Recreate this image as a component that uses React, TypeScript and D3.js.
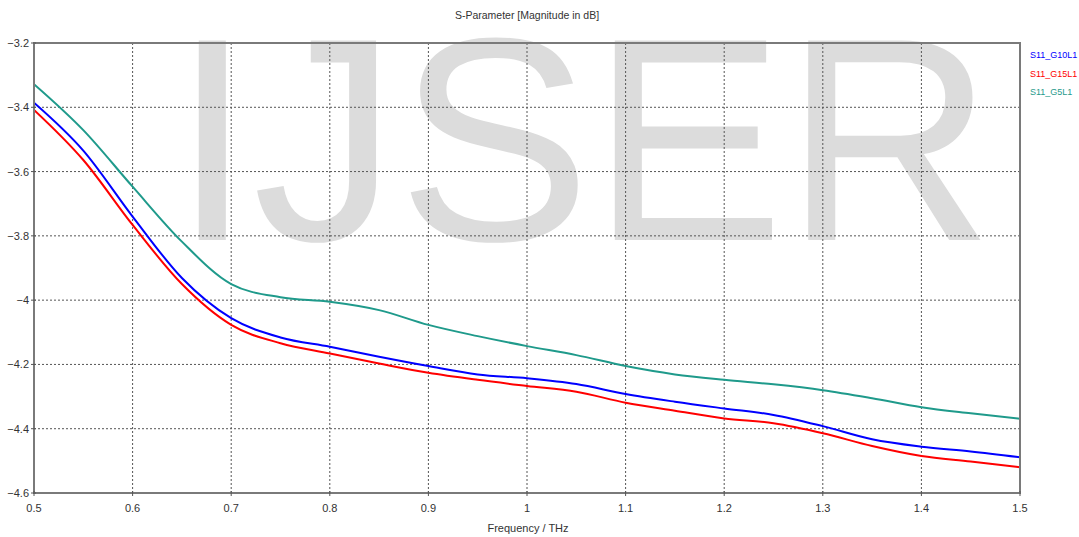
import React from 'react'
import * as d3 from 'd3'

// Frequency (THz) sample points
const freq = [0.5, 0.55, 0.6, 0.65, 0.7, 0.75, 0.8, 0.85, 0.9, 0.95, 1.0, 1.05, 1.1, 1.15, 1.2, 1.25, 1.3, 1.35, 1.4, 1.45, 1.5]

// S11 magnitude in dB
const s11G10L = [-3.386, -3.535, -3.74, -3.931, -4.056, -4.116, -4.145, -4.176, -4.205, -4.231, -4.243, -4.261, -4.292, -4.316, -4.337, -4.357, -4.392, -4.433, -4.456, -4.471, -4.489]
const s11G15L = [-3.408, -3.564, -3.766, -3.95, -4.077, -4.134, -4.166, -4.197, -4.226, -4.248, -4.267, -4.285, -4.319, -4.344, -4.368, -4.383, -4.414, -4.454, -4.485, -4.502, -4.52]
const s11G5L1 = [-3.328, -3.471, -3.647, -3.818, -3.95, -3.991, -4.005, -4.031, -4.077, -4.112, -4.143, -4.171, -4.205, -4.231, -4.248, -4.262, -4.28, -4.305, -4.333, -4.352, -4.369]

const xTicks = [0.5, 0.6, 0.7, 0.8, 0.9, 1, 1.1, 1.2, 1.3, 1.4, 1.5]
const yTicks = [-3.2, -3.4, -3.6, -3.8, -4, -4.2, -4.4, -4.6]

const seriesNames = ['S11_G10L1', 'S11_G15L1', 'S11_G5L1']
const seriesColors = ['#0000ff', '#ff0000', '#1f9a8b']

const W = 1079
const H = 537
const left = 34
const right = 1020
const top = 43
const bottom = 493

export default function App() {
  const x = d3.scaleLinear().domain([0.5, 1.5]).range([left, right])
  const y = d3.scaleLinear().domain([-3.2, -4.6]).range([top, bottom])

  const line = d3
    .line<[number, number]>()
    .x(d => x(d[0]))
    .y(d => y(d[1]))
    .curve(d3.curveMonotoneX)

  const series = [s11G10L, s11G15L, s11G5L1]
  const font = '"Liberation Sans", Arial, sans-serif'

  return (
    <div style={{ position: 'fixed', left: 0, top: 0 }}>
      <svg width={W} height={H} style={{ display: 'block', background: '#fff' }}>
        {/* watermark */}
        <text x={172} y={240} fontFamily={font} fontSize={290} fill="#dcdcdc">
          IJSER
        </text>

        {/* grid */}
        {xTicks.slice(1, -1).map(t => (
          <line key={'gx' + t} x1={x(t)} x2={x(t)} y1={top} y2={bottom} stroke="#555" strokeWidth={1} strokeDasharray="2,2" />
        ))}
        {yTicks.slice(1, -1).map(t => (
          <line key={'gy' + t} x1={left} x2={right} y1={y(t)} y2={y(t)} stroke="#555" strokeWidth={1} strokeDasharray="2,2" />
        ))}

        {/* curves */}
        <defs>
          <clipPath id="plotclip">
            <rect x={left} y={top} width={right - left} height={bottom - top} />
          </clipPath>
        </defs>
        <g clipPath="url(#plotclip)">
          {series.map((vals, i) => (
            <path
              key={seriesNames[i]}
              d={line(freq.map((f, j) => [f, vals[j]] as [number, number])) || ''}
              fill="none"
              stroke={seriesColors[i]}
              strokeWidth={2}
            />
          ))}
        </g>

        {/* frame */}
        <rect x={left} y={top} width={right - left} height={bottom - top} fill="none" stroke="#7a7a7a" strokeWidth={2} />

        {/* x axis ticks */}
        {xTicks.map(t => (
          <g key={'tx' + t}>
            <line x1={x(t)} x2={x(t)} y1={bottom - 2} y2={bottom + 3} stroke="#555" strokeWidth={1} />
            <text x={x(t)} y={512} textAnchor="middle" fontFamily={font} fontSize={11} fill="#333">
              {d3.format('')(t)}
            </text>
          </g>
        ))}

        {/* y axis ticks */}
        {yTicks.map(t => (
          <g key={'ty' + t}>
            <line x1={left - 3} x2={left + 2} y1={y(t)} y2={y(t)} stroke="#555" strokeWidth={1} />
            <text x={29} y={y(t) + 4} textAnchor="end" fontFamily={font} fontSize={11} fill="#333">
              {d3.format('')(t)}
            </text>
          </g>
        ))}

        {/* titles */}
        <text x={527} y={19} textAnchor="middle" fontFamily={font} fontSize={10.5} fill="#333">
          S-Parameter [Magnitude in dB]
        </text>
        <text x={528} y={532} textAnchor="middle" fontFamily={font} fontSize={11} fill="#333">
          Frequency / THz
        </text>

        {/* legend */}
        {seriesNames.map((n, i) => (
          <text key={'lg' + n} x={1030} y={58 + i * 18.5} fontFamily={font} fontSize={9} fill={seriesColors[i]}>
            {n}
          </text>
        ))}
      </svg>
    </div>
  )
}
